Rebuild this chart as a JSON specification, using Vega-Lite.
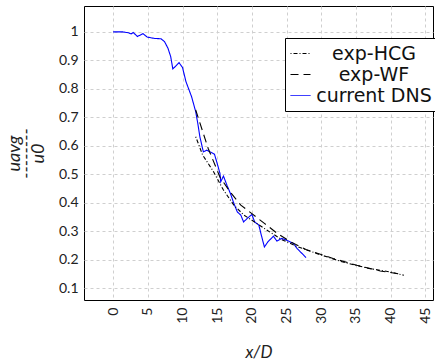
{
  "$schema": "https://vega.github.io/schema/vega-lite/v6.json",
  "width": 349,
  "height": 294,
  "autosize": {"type": "none"},
  "padding": {"left": 84, "top": 6, "right": 2, "bottom": 64},
  "background": "white",
  "config": {
    "font": "Lato",
    "view": {"stroke": "black", "strokeWidth": 1},
    "axis": {
      "domain": false,
      "ticks": false,
      "grid": true,
      "gridColor": "#cfcfcf",
      "gridDash": [3, 3],
      "gridWidth": 1,
      "labelFont": "Lato",
      "labelFontSize": 14,
      "labelColor": "#222",
      "titleFont": "Lato",
      "titleColor": "#222",
      "titleFontWeight": "normal"
    },
    "legend": {
      "title": null,
      "orient": "none",
      "legendX": 201,
      "legendY": 32,
      "strokeColor": "black",
      "fillColor": "white",
      "padding": 5,
      "symbolType": "stroke",
      "symbolSize": 400,
      "symbolStrokeWidth": 1,
      "labelFontSize": 19,
      "labelFont": "DejaVu Sans",
      "labelColor": "#111",
      "labelLimit": 200,
      "labelAlign": "center",
      "labelOffset": 63,
      "rowPadding": 0
    }
  },
  "data": {
    "values": [
      {"s": "current DNS", "x": 0, "y": 1.0},
      {"s": "current DNS", "x": 1.4, "y": 1.0},
      {"s": "current DNS", "x": 2.2, "y": 0.997},
      {"s": "current DNS", "x": 2.6, "y": 0.993},
      {"s": "current DNS", "x": 2.9, "y": 0.998},
      {"s": "current DNS", "x": 3.5, "y": 0.984},
      {"s": "current DNS", "x": 4.3, "y": 0.994},
      {"s": "current DNS", "x": 4.9, "y": 0.982},
      {"s": "current DNS", "x": 6.0, "y": 0.977},
      {"s": "current DNS", "x": 6.9, "y": 0.976},
      {"s": "current DNS", "x": 7.4, "y": 0.966},
      {"s": "current DNS", "x": 7.9, "y": 0.943},
      {"s": "current DNS", "x": 8.3, "y": 0.913},
      {"s": "current DNS", "x": 8.6, "y": 0.87},
      {"s": "current DNS", "x": 9.5, "y": 0.892},
      {"s": "current DNS", "x": 10.0, "y": 0.875},
      {"s": "current DNS", "x": 10.5, "y": 0.825},
      {"s": "current DNS", "x": 11.3, "y": 0.773},
      {"s": "current DNS", "x": 11.9, "y": 0.72},
      {"s": "current DNS", "x": 12.2, "y": 0.679},
      {"s": "current DNS", "x": 12.5, "y": 0.632},
      {"s": "current DNS", "x": 13.0, "y": 0.579},
      {"s": "current DNS", "x": 13.5, "y": 0.585},
      {"s": "current DNS", "x": 14.2, "y": 0.576},
      {"s": "current DNS", "x": 14.6, "y": 0.571},
      {"s": "current DNS", "x": 15.0, "y": 0.538},
      {"s": "current DNS", "x": 15.4, "y": 0.503},
      {"s": "current DNS", "x": 15.5, "y": 0.474},
      {"s": "current DNS", "x": 15.9, "y": 0.494},
      {"s": "current DNS", "x": 16.4, "y": 0.462},
      {"s": "current DNS", "x": 16.9, "y": 0.433},
      {"s": "current DNS", "x": 17.4, "y": 0.398},
      {"s": "current DNS", "x": 17.9, "y": 0.368},
      {"s": "current DNS", "x": 18.4, "y": 0.357},
      {"s": "current DNS", "x": 18.8, "y": 0.333},
      {"s": "current DNS", "x": 19.4, "y": 0.347},
      {"s": "current DNS", "x": 20.0, "y": 0.359},
      {"s": "current DNS", "x": 20.4, "y": 0.333},
      {"s": "current DNS", "x": 21.0, "y": 0.322},
      {"s": "current DNS", "x": 21.3, "y": 0.292},
      {"s": "current DNS", "x": 21.8, "y": 0.245},
      {"s": "current DNS", "x": 22.3, "y": 0.263},
      {"s": "current DNS", "x": 23.1, "y": 0.283},
      {"s": "current DNS", "x": 23.6, "y": 0.266},
      {"s": "current DNS", "x": 24.3, "y": 0.275},
      {"s": "current DNS", "x": 25.0, "y": 0.269},
      {"s": "current DNS", "x": 25.6, "y": 0.262},
      {"s": "current DNS", "x": 26.0, "y": 0.257},
      {"s": "current DNS", "x": 26.5, "y": 0.24},
      {"s": "current DNS", "x": 27.8, "y": 0.208},
      {"s": "exp-WF", "x": 11.9, "y": 0.726},
      {"s": "exp-WF", "x": 13.7, "y": 0.591},
      {"s": "exp-WF", "x": 15.4, "y": 0.49},
      {"s": "exp-WF", "x": 16.9, "y": 0.437},
      {"s": "exp-WF", "x": 18.4, "y": 0.392},
      {"s": "exp-WF", "x": 20.0, "y": 0.362},
      {"s": "exp-WF", "x": 21.8, "y": 0.328},
      {"s": "exp-WF", "x": 23.7, "y": 0.292},
      {"s": "exp-WF", "x": 25.6, "y": 0.263},
      {"s": "exp-WF", "x": 28.0, "y": 0.234},
      {"s": "exp-WF", "x": 31.7, "y": 0.205},
      {"s": "exp-WF", "x": 35.1, "y": 0.181},
      {"s": "exp-WF", "x": 38.5, "y": 0.161},
      {"s": "exp-WF", "x": 41.6, "y": 0.149},
      {"s": "exp-HCG", "x": 11.9, "y": 0.632},
      {"s": "exp-HCG", "x": 12.9, "y": 0.568},
      {"s": "exp-HCG", "x": 14.4, "y": 0.512},
      {"s": "exp-HCG", "x": 15.9, "y": 0.445},
      {"s": "exp-HCG", "x": 17.4, "y": 0.392},
      {"s": "exp-HCG", "x": 18.8, "y": 0.358},
      {"s": "exp-HCG", "x": 20.0, "y": 0.339},
      {"s": "exp-HCG", "x": 21.8, "y": 0.31},
      {"s": "exp-HCG", "x": 24.3, "y": 0.271},
      {"s": "exp-HCG", "x": 26.7, "y": 0.245},
      {"s": "exp-HCG", "x": 29.6, "y": 0.22},
      {"s": "exp-HCG", "x": 33.0, "y": 0.193},
      {"s": "exp-HCG", "x": 36.8, "y": 0.17},
      {"s": "exp-HCG", "x": 39.8, "y": 0.158},
      {"s": "exp-HCG", "x": 41.9, "y": 0.146}
    ]
  },
  "mark": {"type": "line", "strokeWidth": 1.1, "clip": true},
  "encoding": {
    "x": {
      "field": "x",
      "type": "quantitative",
      "scale": {"domain": [-4.2, 46.1], "nice": false, "zero": false},
      "axis": {
        "values": [0, 5, 10, 15, 20, 25, 30, 35, 40, 45],
        "labelAngle": -90,
        "labelPadding": 7,
        "title": "x/D",
        "titleFontSize": 17,
        "titleFontStyle": "italic",
        "titlePadding": 21
      }
    },
    "y": {
      "field": "y",
      "type": "quantitative",
      "scale": {"domain": [0.059, 1.091], "nice": false, "zero": false},
      "axis": {
        "values": [0.1, 0.2, 0.3, 0.4, 0.5, 0.6, 0.7, 0.8, 0.9, 1],
        "format": ".1~f",
        "labelPadding": 6,
        "title": ["uavg", "--------", "u0"],
        "titleFontSize": 18,
        "titleFontStyle": "italic",
        "titleLineHeight": 12,
        "titlePadding": 11
      }
    },
    "color": {
      "field": "s",
      "type": "nominal",
      "scale": {
        "domain": ["exp-HCG", "exp-WF", "current DNS"],
        "range": ["#000000", "#000000", "#0000ff"]
      }
    },
    "strokeDash": {
      "field": "s",
      "type": "nominal",
      "scale": {
        "domain": ["exp-HCG", "exp-WF", "current DNS"],
        "range": [[1, 2, 4, 2], [8, 5], [1, 0]]
      }
    }
  }
}
